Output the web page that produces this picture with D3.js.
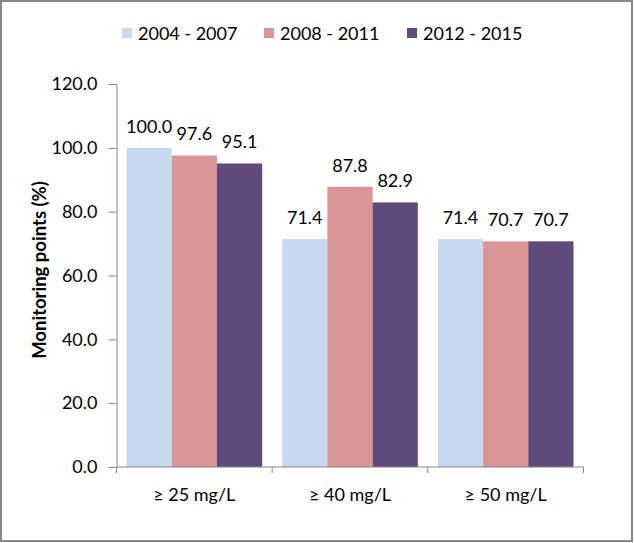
<!DOCTYPE html>
<html>
<head>
<meta charset="utf-8">
<script src="https://cdn.jsdelivr.net/npm/d3@7"></script>
<style>
  body { margin: 0; background: #fff; }
  svg text { font-family: Lato, "Open Sans", sans-serif; fill: #000; }
</style>
</head>
<body>
<svg id="chart" width="634" height="543"></svg>
<script>
'use strict';

// chart data
var categories = ["\u2265 25 mg/L", "\u2265 40 mg/L", "\u2265 50 mg/L"];
var seriesNames = ["2004 - 2007", "2008 - 2011", "2012 - 2015"];
var seriesColors = ["#c6d9f1", "#d99694", "#604a7b"];
var values2004 = [100.0, 71.4, 71.4];
var values2008 = [97.6, 87.8, 70.7];
var values2012 = [95.1, 82.9, 70.7];
var yTicks = [0, 20, 40, 60, 80, 100, 120];

var seriesValues = [values2004, values2008, values2012];

var svg = d3.select("#chart");

// outer frame
svg.append("rect")
  .attr("x", 1).attr("y", 1)
  .attr("width", 631).attr("height", 540)
  .attr("fill", "#fff")
  .attr("stroke", "#878787")
  .attr("stroke-width", 2);

var plot = { left: 116.5, right: 583.5, top: 84, bottom: 467 };

var x0 = d3.scaleBand()
  .domain(categories)
  .range([plot.left, plot.right])
  .padding(0);

var x1 = d3.scaleBand()
  .domain(seriesNames)
  .range([10, x0.bandwidth() - 10])
  .padding(0);

var y = d3.scaleLinear()
  .domain([0, 120])
  .range([plot.bottom, plot.top]);

// bars
var groups = svg.append("g").selectAll("g")
  .data(categories)
  .enter().append("g")
    .attr("transform", function (d) { return "translate(" + x0(d) + ",0)"; });

groups.selectAll("rect")
  .data(function (d, i) {
    return seriesNames.map(function (s, j) { return { name: s, value: seriesValues[j][i], color: seriesColors[j] }; });
  })
  .enter().append("rect")
    .attr("x", function (d) { return x1(d.name); })
    .attr("y", function (d) { return y(d.value); })
    .attr("width", x1.bandwidth())
    .attr("height", function (d) { return y(0) - y(d.value); })
    .attr("fill", function (d) { return d.color; });

// value labels
groups.selectAll("text")
  .data(function (d, i) {
    return seriesNames.map(function (s, j) { return { name: s, value: seriesValues[j][i] }; });
  })
  .enter().append("text")
    .attr("x", function (d) { return x1(d.name) + x1.bandwidth() / 2; })
    .attr("y", function (d) { return y(d.value) - 15; })
    .attr("text-anchor", "middle")
    .attr("font-size", "18px")
    .text(function (d) { return d.value.toFixed(1); });

// y axis
var yAxis = d3.axisLeft(y)
  .tickValues(yTicks)
  .tickSize(8)
  .tickPadding(11)
  .tickFormat(function (d) { return d.toFixed(1); });

var yg = svg.append("g")
  .attr("transform", "translate(" + plot.left + ",0)")
  .call(yAxis);
yg.select(".domain").attr("stroke", "#868686");
yg.selectAll(".tick line").attr("stroke", "#868686");
yg.selectAll(".tick text").attr("font-size", "18px").attr("font-family", "Lato, sans-serif").attr("fill", "#000");

// x axis (ticks at band boundaries)
var xg = svg.append("g")
  .attr("transform", "translate(0," + plot.bottom + ")");
xg.append("line")
  .attr("x1", plot.left).attr("x2", plot.right)
  .attr("stroke", "#868686");
xg.selectAll("line.tick")
  .data(categories.concat([null]))
  .enter().append("line")
    .attr("class", "tick")
    .attr("x1", function (d) { return d === null ? plot.right : x0(d); })
    .attr("x2", function (d) { return d === null ? plot.right : x0(d); })
    .attr("y1", 0).attr("y2", 6)
    .attr("stroke", "#868686");
xg.selectAll("text")
  .data(categories)
  .enter().append("text")
    .attr("x", function (d) { return x0(d) + x0.bandwidth() / 2; })
    .attr("y", 34)
    .attr("text-anchor", "middle")
    .attr("font-size", "18px")
    .text(function (d) { return d; });

// y axis title
svg.append("text")
  .attr("transform", "translate(46,270) rotate(-90)")
  .attr("text-anchor", "middle")
  .attr("font-size", "18.5px")
  .attr("font-weight", "bold")
  .text("Monitoring points (%)");

// legend
var legendX = [122, 264, 407];
var legend = svg.append("g").selectAll("g")
  .data(seriesNames)
  .enter().append("g")
    .attr("transform", function (d, i) { return "translate(" + legendX[i] + ",28)"; });
legend.append("rect")
  .attr("width", 10).attr("height", 10)
  .attr("fill", function (d, i) { return seriesColors[i]; });
legend.append("text")
  .attr("x", 16)
  .attr("y", 11.5)
  .attr("font-size", "18px")
  .text(function (d) { return d; });
</script>
</body>
</html>
